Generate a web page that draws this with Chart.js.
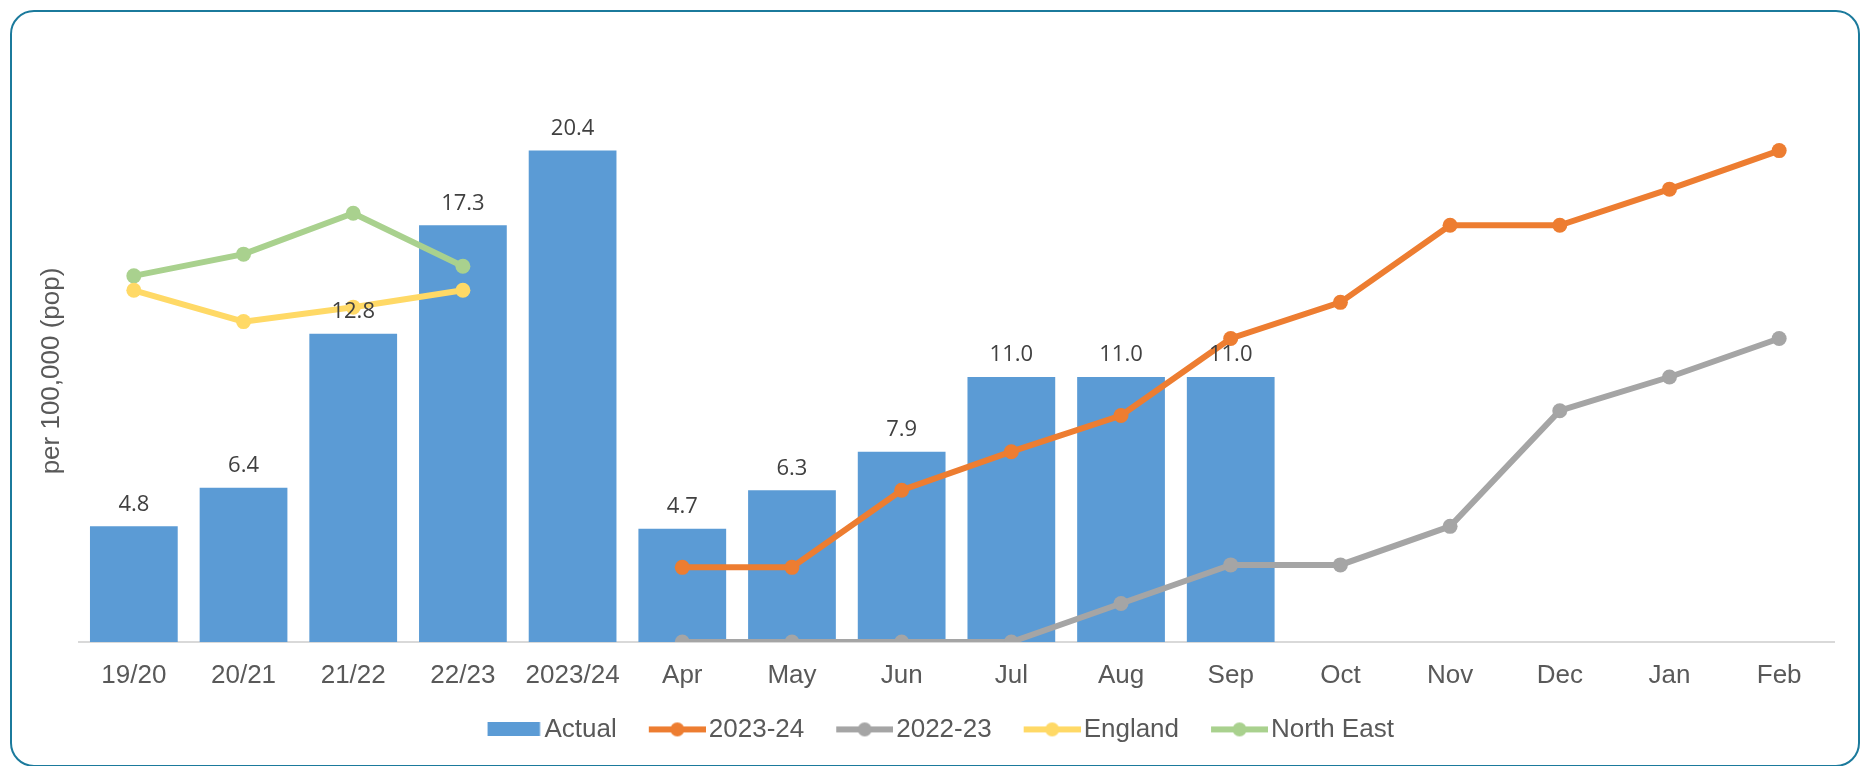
<!DOCTYPE html>
<html>
<head>
<meta charset="utf-8">
<script src="https://cdn.jsdelivr.net/npm/chart.js@4.4.0/dist/chart.umd.min.js"></script>
<style>
    body { margin: 0; background: #fff; overflow: hidden; }
    #wrap { position: relative; width: 1860px; height: 766px; }
    #frame {
        position: absolute; left: 10px; top: 10px; width: 1850px; height: 757px;
        box-sizing: border-box; border: 2px solid #1b7a9c; border-radius: 24px;
        pointer-events: none;
    }
</style>
</head>
<body>
<div id="wrap">
    <canvas id="chart"></canvas>
    <div id="frame"></div>
</div>
<script>
const categories = ['19/20', '20/21', '21/22', '22/23', '2023/24', 'Apr', 'May', 'Jun', 'Jul', 'Aug', 'Sep', 'Oct', 'Nov', 'Dec', 'Jan', 'Feb'];
const actual = [4.8, 6.4, 12.8, 17.3, 20.4, 4.7, 6.3, 7.9, 11.0, 11.0, 11.0, null, null, null, null, null];
const year2324 = [null, null, null, null, null, 3.1, 3.1, 6.3, 7.9, 9.4, 12.6, 14.1, 17.3, 17.3, 18.8, 20.4];
const year2223 = [null, null, null, null, null, 0, 0, 0, 0, 1.6, 3.2, 3.2, 4.8, 9.6, 11.0, 12.6];
const england = [14.6, 13.3, 13.9, 14.6, null, null, null, null, null, null, null, null, null, null, null, null];
const northEast = [15.2, 16.1, 17.8, 15.6, null, null, null, null, null, null, null, null, null, null, null, null];

const textGrey = '#595959';
const sans = '"Liberation Sans", Arial, sans-serif';

// legend box is 58 wide; the 78px icon canvas is centred on it, its blank
// left part adds to the spacing between items
function lineIcon(color) {
    const c = document.createElement('canvas');
    c.width = 78;
    c.height = 16;
    const g = c.getContext('2d');
    g.strokeStyle = color;
    g.lineWidth = 6;
    g.beginPath();
    g.moveTo(21, 8);
    g.lineTo(78, 8);
    g.stroke();
    g.fillStyle = color;
    g.beginPath();
    g.arc(49.5, 8, 7, 0, Math.PI * 2);
    g.fill();
    return c;
}

function barIcon(color) {
    const c = document.createElement('canvas');
    c.width = 78;
    c.height = 14;
    const g = c.getContext('2d');
    g.fillStyle = color;
    g.fillRect(24, 0, 52.5, 14);
    return c;
}

function lineSet(label, data, color) {
    return {
        type: 'line',
        label: label,
        data: data,
        borderColor: color,
        backgroundColor: color,
        pointBackgroundColor: color,
        borderWidth: 6,
        pointRadius: 7.5,
        pointBorderWidth: 0,
        fill: false,
        tension: 0,
        order: 0
    };
}

const barLabels = {
    id: 'barLabels',
    afterDatasetsDraw(chart) {
        const ctx = chart.ctx;
        const meta = chart.getDatasetMeta(0);
        ctx.save();
        ctx.font = '22px "Open Sans"';
        ctx.fillStyle = '#404040';
        ctx.textAlign = 'center';
        ctx.textBaseline = 'middle';
        meta.data.forEach(function (bar, i) {
            if (actual[i] == null) return;
            ctx.fillText(actual[i].toFixed(1), bar.x, bar.y - 22);
        });
        ctx.restore();
    }
};

new Chart(document.getElementById('chart'), {
    type: 'bar',
    data: {
        labels: categories,
        datasets: [
            {
                label: 'Actual',
                data: actual,
                backgroundColor: '#5b9bd5',
                barPercentage: 0.8,
                categoryPercentage: 1.0,
                order: 1
            },
            lineSet('2023-24', year2324, '#ed7d31'),
            lineSet('2022-23', year2223, '#a5a5a5'),
            lineSet('England', england, '#ffd966'),
            lineSet('North East', northEast, '#a9d18e')
        ]
    },
    options: {
        responsive: true,
        maintainAspectRatio: false,
        animation: false,
        layout: {
            padding: { left: 33.4, right: 26, top: 100, bottom: 13.6 }
        },
        scales: {
            x: {
                grid: { display: false, drawTicks: false },
                border: { display: true, color: '#d9d9d9', width: 2 },
                ticks: {
                    padding: 18,
                    color: textGrey,
                    font: { family: sans, size: 26 }
                },
                afterFit: function (scale) {
                    scale.height = 53.4;
                }
            },
            y: {
                min: 0,
                max: 22.5,
                grid: { display: false, drawTicks: false },
                border: { display: false },
                ticks: { display: false },
                title: {
                    display: true,
                    text: 'per 100,000 (pop)',
                    color: textGrey,
                    padding: { top: 3, bottom: 11.4 },
                    font: { family: sans, size: 26 }
                }
            }
        },
        plugins: {
            tooltip: { enabled: false },
            legend: {
                position: 'bottom',
                labels: {
                    usePointStyle: true,
                    pointStyleWidth: 58,
                    padding: 21,
                    color: textGrey,
                    font: { family: sans, size: 26 },
                    generateLabels: function (chart) {
                        return chart.data.datasets.map(function (ds, i) {
                            return {
                                text: ds.label,
                                pointStyle: ds.type === 'line' ? lineIcon(ds.borderColor) : barIcon(ds.backgroundColor),
                                fillStyle: ds.backgroundColor,
                                strokeStyle: ds.backgroundColor,
                                lineWidth: 0,
                                fontColor: textGrey,
                                hidden: false,
                                datasetIndex: i
                            };
                        });
                    }
                }
            }
        }
    },
    plugins: [barLabels]
});
</script>
</body>
</html>
